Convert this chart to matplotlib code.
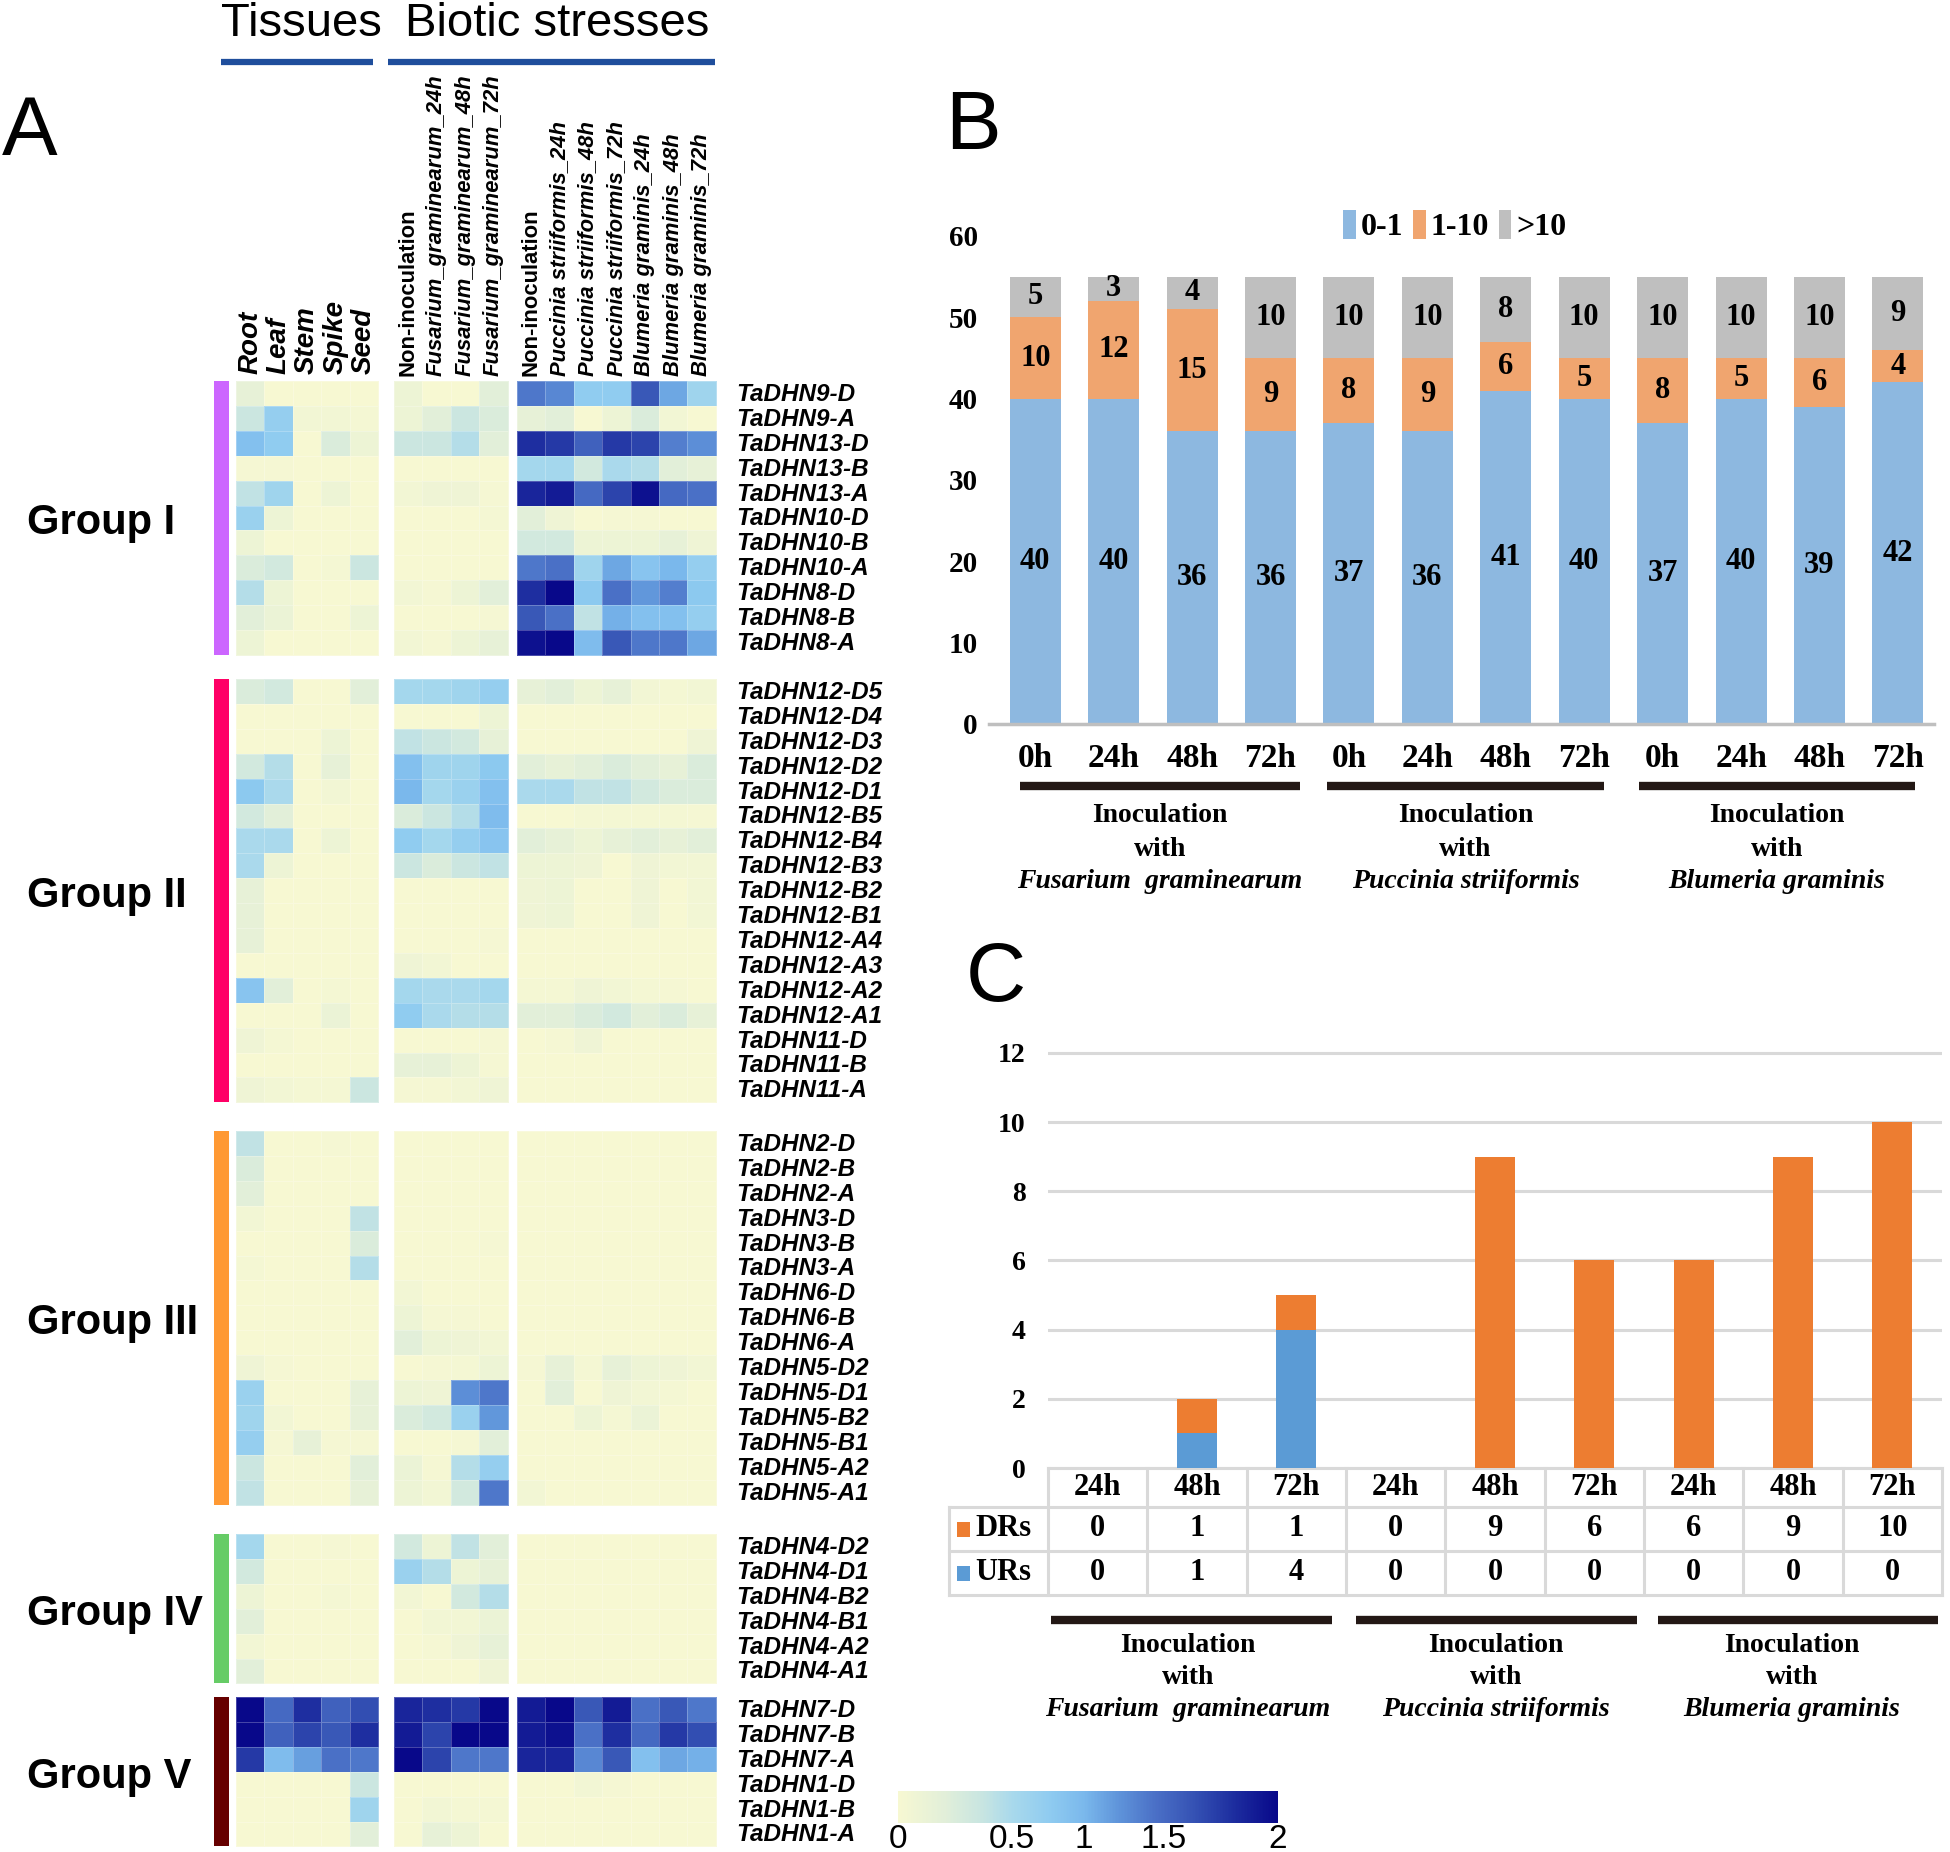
import numpy as np
import matplotlib
matplotlib.use('Agg')
import matplotlib.pyplot as plt
from matplotlib.colors import LinearSegmentedColormap, FuncNorm
from matplotlib.cm import ScalarMappable
from matplotlib.patches import Rectangle

plt.rcParams['font.family'] = ['Liberation Sans', 'DejaVu Sans']
SERIF = ['Liberation Serif', 'DejaVu Serif']

# ---------------- data: panel A (log2 expression, 0-2) ----------------
# columns: Root, Leaf, Stem, Spike, Seed | NI, F24, F48, F72 | NI, P24, P48, P72, B24, B48, B72
tissue_labels = ['Root', 'Leaf', 'Stem', 'Spike', 'Seed']
fusarium_labels = ['Non-inoculation', 'Fusarium_graminearum_24h',
                   'Fusarium_graminearum_48h', 'Fusarium_graminearum_72h']
rust_labels = ['Non-inoculation', 'Puccinia striiformis_24h', 'Puccinia striiformis_48h',
               'Puccinia striiformis_72h', 'Blumeria graminis_24h',
               'Blumeria graminis_48h', 'Blumeria graminis_72h']

group1_genes = ['TaDHN9-D', 'TaDHN9-A', 'TaDHN13-D', 'TaDHN13-B', 'TaDHN13-A', 'TaDHN10-D',
                'TaDHN10-B', 'TaDHN10-A', 'TaDHN8-D', 'TaDHN8-B', 'TaDHN8-A']
group1_vals = [
    [0.15, 0, 0, 0, 0, 0.1, 0, 0, 0.2, 1.4, 1.3, 0.75, 0.75, 1.6, 1.1, 0.6],
    [0.35, 0.7, 0.05, 0.05, 0.03, 0.1, 0.2, 0.35, 0.25, 0.15, 0.2, 0, 0.1, 0.25, 0.05, 0],
    [0.9, 0.75, 0, 0.25, 0.1, 0.35, 0.35, 0.45, 0.2, 1.8, 1.75, 1.55, 1.75, 1.7, 1.35, 1.25],
    [0.02, 0.02, 0, 0, 0, 0, 0, 0, 0, 0.55, 0.55, 0.3, 0.5, 0.45, 0.2, 0.15],
    [0.4, 0.6, 0, 0.1, 0, 0.05, 0.08, 0.08, 0.02, 1.85, 1.9, 1.5, 1.7, 1.95, 1.5, 1.45],
    [0.65, 0.1, 0, 0, 0, 0, 0, 0, 0.03, 0.2, 0.08, 0, 0.02, 0.02, 0, 0],
    [0.1, 0, 0, 0, 0, 0, 0, 0, 0, 0.3, 0.3, 0.1, 0.1, 0.1, 0.15, 0.08],
    [0.25, 0.3, 0, 0.03, 0.35, 0, 0, 0, 0, 1.4, 1.45, 0.6, 1.1, 0.85, 1.0, 0.7],
    [0.45, 0.1, 0, 0, 0, 0.05, 0.02, 0.1, 0.2, 1.8, 2.0, 0.8, 1.45, 1.2, 1.35, 0.8],
    [0.2, 0.12, 0, 0, 0.1, 0, 0, 0, 0.02, 1.6, 1.45, 0.4, 1.05, 0.9, 0.9, 0.7],
    [0.1, 0, 0, 0, 0, 0.05, 0.02, 0.1, 0.15, 1.95, 2.0, 0.95, 1.6, 1.4, 1.4, 1.1],
]

group2_genes = ['TaDHN12-D5', 'TaDHN12-D4', 'TaDHN12-D3', 'TaDHN12-D2', 'TaDHN12-D1',
                'TaDHN12-B5', 'TaDHN12-B4', 'TaDHN12-B3', 'TaDHN12-B2', 'TaDHN12-B1',
                'TaDHN12-A4', 'TaDHN12-A3', 'TaDHN12-A2', 'TaDHN12-A1',
                'TaDHN11-D', 'TaDHN11-B', 'TaDHN11-A']
group2_vals = [
    [0.25, 0.3, 0, 0, 0.2, 0.55, 0.55, 0.6, 0.7, 0.15, 0.2, 0.1, 0.15, 0.05, 0.03, 0.05],
    [0, 0, 0, 0, 0, 0, 0, 0, 0.1, 0, 0, 0, 0, 0, 0, 0],
    [0, 0, 0, 0.1, 0, 0.4, 0.35, 0.3, 0.15, 0, 0, 0, 0, 0, 0, 0.08],
    [0.3, 0.45, 0, 0.15, 0, 0.9, 0.6, 0.6, 0.8, 0.2, 0.15, 0.2, 0.25, 0.2, 0.15, 0.25],
    [0.8, 0.5, 0, 0.05, 0, 1.0, 0.55, 0.65, 0.9, 0.5, 0.5, 0.4, 0.4, 0.3, 0.25, 0.25],
    [0.3, 0.2, 0, 0, 0, 0.25, 0.35, 0.45, 0.95, 0, 0, 0.03, 0.03, 0.03, 0.03, 0.02],
    [0.5, 0.5, 0, 0.1, 0, 0.75, 0.55, 0.7, 0.85, 0.2, 0.15, 0.1, 0.15, 0.2, 0.15, 0.2],
    [0.5, 0.1, 0, 0, 0, 0.35, 0.25, 0.35, 0.4, 0.1, 0.1, 0.08, 0, 0.08, 0.05, 0.05],
    [0.15, 0, 0, 0, 0, 0, 0, 0, 0, 0.08, 0.1, 0, 0, 0.08, 0, 0.05],
    [0.15, 0, 0, 0, 0, 0, 0, 0, 0, 0.08, 0.1, 0, 0, 0.08, 0, 0.05],
    [0.15, 0, 0, 0, 0, 0, 0, 0, 0.02, 0, 0, 0, 0, 0, 0, 0],
    [0, 0, 0, 0, 0, 0.08, 0.05, 0, 0, 0, 0, 0, 0, 0, 0, 0],
    [0.85, 0.2, 0, 0.03, 0, 0.55, 0.5, 0.5, 0.55, 0.03, 0.03, 0.08, 0.05, 0.03, 0.02, 0],
    [0, 0, 0, 0.12, 0, 0.75, 0.5, 0.45, 0.45, 0.2, 0.2, 0.25, 0.3, 0.2, 0.25, 0.15],
    [0.08, 0.03, 0, 0, 0, 0, 0, 0, 0.02, 0, 0.02, 0.08, 0, 0, 0, 0],
    [0, 0, 0, 0, 0, 0.15, 0.15, 0.1, 0.02, 0, 0, 0, 0, 0, 0, 0],
    [0.08, 0.05, 0.03, 0.03, 0.35, 0.02, 0.02, 0.05, 0.08, 0, 0, 0, 0, 0, 0, 0],
]

group3_genes = ['TaDHN2-D', 'TaDHN2-B', 'TaDHN2-A', 'TaDHN3-D', 'TaDHN3-B', 'TaDHN3-A',
                'TaDHN6-D', 'TaDHN6-B', 'TaDHN6-A', 'TaDHN5-D2', 'TaDHN5-D1', 'TaDHN5-B2',
                'TaDHN5-B1', 'TaDHN5-A2', 'TaDHN5-A1']
group3_vals = [
    [0.4, 0, 0, 0.02, 0, 0, 0, 0, 0, 0, 0, 0, 0, 0, 0, 0],
    [0.25, 0, 0, 0, 0, 0, 0, 0, 0, 0, 0, 0, 0, 0, 0, 0],
    [0.2, 0, 0, 0, 0, 0, 0, 0, 0, 0, 0, 0, 0, 0, 0, 0],
    [0.05, 0, 0, 0, 0.4, 0, 0, 0, 0, 0, 0, 0, 0, 0, 0, 0],
    [0, 0, 0, 0, 0.25, 0, 0, 0, 0.02, 0, 0, 0, 0, 0, 0, 0],
    [0.03, 0, 0, 0, 0.45, 0, 0, 0, 0, 0, 0, 0, 0, 0, 0, 0],
    [0, 0, 0, 0, 0, 0.05, 0, 0, 0, 0, 0, 0, 0, 0, 0, 0],
    [0, 0, 0, 0, 0, 0.1, 0.02, 0.02, 0, 0, 0, 0, 0, 0, 0, 0],
    [0, 0, 0, 0, 0, 0.2, 0.1, 0.08, 0.05, 0, 0, 0, 0, 0, 0, 0],
    [0.08, 0.02, 0, 0, 0, 0, 0.02, 0.03, 0.1, 0.02, 0.15, 0.03, 0.15, 0.1, 0.08, 0.05],
    [0.65, 0, 0, 0, 0.15, 0.1, 0.08, 1.25, 1.4, 0, 0.2, 0, 0.08, 0.05, 0.03, 0],
    [0.6, 0.05, 0, 0, 0.15, 0.25, 0.3, 0.65, 1.2, 0, 0, 0.1, 0.03, 0.12, 0, 0],
    [0.7, 0.02, 0.15, 0.02, 0.02, 0, 0, 0.02, 0.2, 0, 0, 0, 0, 0, 0, 0],
    [0.35, 0, 0, 0, 0.2, 0.12, 0.02, 0.45, 0.7, 0, 0, 0, 0, 0, 0, 0],
    [0.4, 0, 0, 0, 0.15, 0.1, 0.05, 0.3, 1.4, 0.05, 0, 0, 0, 0, 0, 0],
]

group4_genes = ['TaDHN4-D2', 'TaDHN4-D1', 'TaDHN4-B2', 'TaDHN4-B1', 'TaDHN4-A2', 'TaDHN4-A1']
group4_vals = [
    [0.55, 0, 0, 0.02, 0, 0.3, 0.1, 0.4, 0.2, 0, 0, 0, 0, 0, 0, 0],
    [0.3, 0, 0, 0, 0, 0.65, 0.45, 0.1, 0.15, 0, 0, 0, 0, 0, 0, 0],
    [0.1, 0, 0, 0.03, 0, 0.05, 0, 0.3, 0.45, 0, 0, 0, 0, 0, 0, 0],
    [0.2, 0, 0, 0, 0, 0, 0.05, 0.05, 0.12, 0, 0, 0, 0, 0, 0, 0],
    [0.05, 0, 0, 0, 0, 0, 0.02, 0.08, 0.15, 0, 0, 0, 0, 0, 0, 0],
    [0.2, 0, 0, 0, 0, 0, 0, 0, 0.08, 0, 0, 0, 0, 0, 0, 0],
]

group5_genes = ['TaDHN7-D', 'TaDHN7-B', 'TaDHN7-A', 'TaDHN1-D', 'TaDHN1-B', 'TaDHN1-A']
group5_vals = [
    [2.0, 1.5, 1.8, 1.55, 1.65, 1.85, 1.8, 1.75, 2.0, 1.9, 2.0, 1.6, 1.9, 1.45, 1.6, 1.4],
    [2.0, 1.55, 1.7, 1.6, 1.8, 1.9, 1.7, 2.0, 2.0, 1.9, 1.95, 1.45, 1.8, 1.5, 1.75, 1.65],
    [1.75, 0.95, 1.15, 1.45, 1.4, 2.0, 1.7, 1.4, 1.4, 1.85, 1.85, 1.3, 1.6, 0.9, 1.1, 1.05],
    [0, 0, 0, 0, 0.35, 0, 0, 0, 0, 0, 0, 0.05, 0.02, 0, 0, 0],
    [0, 0, 0, 0, 0.6, 0, 0.05, 0.03, 0.03, 0, 0, 0, 0, 0, 0, 0],
    [0, 0, 0, 0, 0.2, 0, 0.15, 0.1, 0, 0, 0, 0, 0, 0, 0, 0],
]

group_names = ['Group I', 'Group II', 'Group III', 'Group IV', 'Group V']
group_colors = ['#cc66ff', '#ff0066', '#ff9933', '#66cc66', '#660000']

# ---------------- data: panel B ----------------
b_times = ['0h', '24h', '48h', '72h'] * 3
b_low = [40, 40, 36, 36, 37, 36, 41, 40, 37, 40, 39, 42]
b_mid = [10, 12, 15, 9, 8, 9, 6, 5, 8, 5, 6, 4]
b_high = [5, 3, 4, 10, 10, 10, 8, 10, 10, 10, 10, 9]

# ---------------- data: panel C ----------------
c_times = ['24h', '48h', '72h'] * 3
c_drs = [0, 1, 1, 0, 9, 6, 6, 9, 10]
c_urs = [0, 1, 4, 0, 0, 0, 0, 0, 0]

pathogens = ['Fusarium  graminearum', 'Puccinia striiformis', 'Blumeria graminis']

# ---------------- colours ----------------
cmap = LinearSegmentedColormap.from_list('dhn', [
    (0.0, '#f7f8d2'), (0.12, '#e2efd9'), (0.22, '#c8e5e1'), (0.30, '#a9d9ec'),
    (0.40, '#8fcbf0'), (0.49, '#7ab8ec'), (0.58, '#5f94da'), (0.68, '#4a6fc6'),
    (0.78, '#3552b4'), (0.88, '#1e2fa0'), (1.0, '#08088a')])
cb_vals = [0, 0.5, 1, 1.5, 2]
cb_pos = [0, 0.3, 0.49, 0.7, 1.0]
norm = FuncNorm((lambda v: np.interp(v, cb_vals, cb_pos),
                 lambda p: np.interp(p, cb_pos, cb_vals)), vmin=0, vmax=2)

W, H = 1950, 1852


def px_rect(x0, y0, x1, y1):
    return [x0 / W, 1 - y1 / H, (x1 - x0) / W, (y1 - y0) / H]


fig = plt.figure(figsize=(W / 100, H / 100), dpi=100)
canvas = fig.add_axes([0, 0, 1, 1])
canvas.set_xlim(0, W)
canvas.set_ylim(H, 0)
canvas.axis('off')

# ---------------- panel A ----------------
canvas.text(2, 155, 'A', fontsize=60, va='baseline')
canvas.text(301, 24, 'Tissues', fontsize=34, ha='center', va='center')
canvas.text(557, 24, 'Biotic stresses', fontsize=34, ha='center', va='center')
canvas.plot([221, 373], [62, 62], color='#1f4e9c', lw=4.5, solid_capstyle='butt')
canvas.plot([388, 715], [62, 62], color='#1f4e9c', lw=4.5, solid_capstyle='butt')

ROW_H = 24.9
COL_W = 28.4
block_x0 = [236, 394, 517]
block_cols = [(0, 5), (5, 9), (9, 16)]
group_tops = [381, 679, 1131, 1534, 1697]

col_labels = tissue_labels + fusarium_labels + rust_labels
for k, lab in enumerate(col_labels):
    b = 0 if k < 5 else (1 if k < 9 else 2)
    xc = block_x0[b] + (k - block_cols[b][0] + 0.5) * COL_W
    if b == 0:
        canvas.text(xc, 374, lab, rotation=90, ha='center', va='bottom',
                    fontsize=20, fontweight='bold', fontstyle='italic')
    else:
        style = 'normal' if lab.startswith('Non') else 'italic'
        canvas.text(xc, 376, lab, rotation=90, ha='center', va='bottom',
                    fontsize=15.8, fontweight='bold', fontstyle=style)

groups = [(group1_genes, group1_vals), (group2_genes, group2_vals),
          (group3_genes, group3_vals), (group4_genes, group4_vals),
          (group5_genes, group5_vals)]

for (genes, vals), top, name, gcol in zip(groups, group_tops, group_names, group_colors):
    vals = np.array(vals, dtype=float)
    n = len(genes)
    ye = top + np.arange(n + 1) * ROW_H
    for x0, (c0, c1) in zip(block_x0, block_cols):
        xe = x0 + np.arange(c1 - c0 + 1) * COL_W
        canvas.pcolormesh(xe, ye, vals[:, c0:c1], cmap=cmap, norm=norm,
                          edgecolors=(1, 1, 1, 0.25), linewidth=0.4)
    canvas.add_patch(Rectangle((214, top), 15, n * ROW_H, color=gcol, lw=0))
    for i, g in enumerate(genes):
        canvas.text(736, top + (i + 0.5) * ROW_H + 1, g, fontsize=17.5, fontweight='bold',
                    fontstyle='italic', va='center', ha='left')
    canvas.text(27, top + n * ROW_H / 2 + 5, name, fontsize=30, fontweight='bold',
                va='center', ha='left')

# colour bar
cax = fig.add_axes(px_rect(898, 1791, 1278, 1823))
cb = fig.colorbar(ScalarMappable(norm=norm, cmap=cmap), cax=cax,
                  orientation='horizontal', ticks=cb_vals)
cb.outline.set_visible(False)
cb.set_ticklabels(['0', '0.5', '1', '1.5', '2'])
cax.tick_params(length=0, labelsize=24, pad=1)

# ---------------- panel B ----------------
canvas.text(945, 149, 'B', fontsize=60, va='baseline')
axB = fig.add_axes(px_rect(989, 236, 1934, 724))
axB.set_facecolor('none')
xb = np.arange(len(b_times))
low = np.array(b_low)
mid = np.array(b_mid)
high = np.array(b_high)
bw = 0.65
r1 = axB.bar(xb, low, bw, color='#8db8e0', label='0-1')
r2 = axB.bar(xb, mid, bw, bottom=low, color='#f0a56f', label='1-10')
r3 = axB.bar(xb, high, bw, bottom=low + mid, color='#bfbfbf', label='>10')
for r in (r1, r2, r3):
    axB.bar_label(r, label_type='center', fontsize=22, fontweight='bold', family=SERIF)
axB.set_xlim(-0.59, 11.46)
axB.set_ylim(0, 60)
axB.set_yticks(range(0, 61, 10))
axB.set_xticks(xb)
axB.set_xticklabels(b_times)
for s in ['top', 'right', 'left']:
    axB.spines[s].set_visible(False)
axB.spines['bottom'].set_color('#bfbfbf')
axB.spines['bottom'].set_linewidth(2.5)
axB.tick_params(axis='y', length=0, pad=8)
axB.tick_params(axis='x', length=0, pad=14)
for t in axB.get_yticklabels():
    t.set_fontfamily(SERIF)
    t.set_fontweight('bold')
    t.set_fontsize(21)
for t in axB.get_xticklabels():
    t.set_fontfamily(SERIF)
    t.set_fontweight('bold')
    t.set_fontsize(24)
axB.legend(loc='center', bbox_to_anchor=(0.493, 1.02), ncol=3, frameon=False,
           handlelength=0.4, handleheight=1.0, handletextpad=0.15, columnspacing=0.3,
           prop={'family': SERIF, 'weight': 'bold', 'size': 23}, borderaxespad=0)

b_lines = [(1020, 1300), (1327, 1604), (1639, 1915)]
for (x0, x1), sp in zip(b_lines, pathogens):
    canvas.plot([x0, x1], [786, 786], color='#231815', lw=6, solid_capstyle='butt')
    xc = (x0 + x1) / 2
    canvas.text(xc, 816, 'Inoculation', family=SERIF, fontweight='bold', fontsize=20,
                ha='center', va='center')
    canvas.text(xc, 849, 'with', family=SERIF, fontweight='bold', fontsize=20,
                ha='center', va='center')
    canvas.text(xc, 882, sp, family=SERIF, fontweight='bold', fontstyle='italic',
                fontsize=20, ha='center', va='center')

# ---------------- panel C ----------------
canvas.text(966, 1001, 'C', fontsize=60, va='baseline')
C_L, C_R, C_T, C_B = 1048, 1942, 1046, 1468
axC = fig.add_axes(px_rect(C_L, C_T, C_R, C_B))
axC.set_facecolor('none')
xc_ = np.arange(len(c_times))
axC.bar(xc_, c_urs, 0.4, color='#5b9bd5', zorder=3)
axC.bar(xc_, c_drs, 0.4, bottom=c_urs, color='#ed7d31', zorder=3)
axC.set_xlim(-0.5, 8.5)
axC.set_ylim(0, 12.2)
axC.set_yticks(range(0, 13, 2))
axC.set_xticks([])
axC.grid(axis='y', color='#d9d9d9', lw=2.2)
axC.set_axisbelow(True)
for s in axC.spines.values():
    s.set_visible(False)
axC.tick_params(axis='y', length=0, pad=16)
for t in axC.get_yticklabels():
    t.set_fontfamily(SERIF)
    t.set_fontweight('bold')
    t.set_fontsize(20)

# data table under panel C
col_w = (C_R - C_L) / len(c_times)
row_y = [1468, 1507, 1551, 1595]
tcol = '#d9d9d9'
canvas.plot([C_L, C_R], [row_y[0], row_y[0]], color=tcol, lw=2.2)
for yy in row_y[1:]:
    canvas.plot([949, C_R], [yy, yy], color=tcol, lw=2.2)
canvas.plot([949, 949], [row_y[1], row_y[3]], color=tcol, lw=2.2)
for i in range(len(c_times) + 1):
    xx = C_L + i * col_w
    canvas.plot([xx, xx], [row_y[0], row_y[3]], color=tcol, lw=2.2)
for i, lab in enumerate(c_times):
    cx = C_L + (i + 0.5) * col_w
    canvas.text(cx, (row_y[0] + row_y[1]) / 2, lab, family=SERIF, fontweight='bold',
                fontsize=22, ha='center', va='center')
    canvas.text(cx, (row_y[1] + row_y[2]) / 2, str(c_drs[i]), family=SERIF,
                fontweight='bold', fontsize=22, ha='center', va='center')
    canvas.text(cx, (row_y[2] + row_y[3]) / 2, str(c_urs[i]), family=SERIF,
                fontweight='bold', fontsize=22, ha='center', va='center')
for (lab, colr), y0, y1 in zip([('DRs', '#ed7d31'), ('URs', '#5b9bd5')], row_y[1:3], row_y[2:4]):
    ym = (y0 + y1) / 2
    canvas.add_patch(Rectangle((957, ym - 7), 13, 15, color=colr, lw=0))
    canvas.text(975, ym, lab, family=SERIF, fontweight='bold', fontsize=22,
                ha='left', va='center')

c_lines = [(1051, 1332), (1356, 1637), (1658, 1938)]
c_text_x = [1188, 1496, 1792]
for (x0, x1), tx, sp in zip(c_lines, c_text_x, pathogens):
    canvas.plot([x0, x1], [1620, 1620], color='#231815', lw=6, solid_capstyle='butt')
    canvas.text(tx, 1645, 'Inoculation', family=SERIF, fontweight='bold', fontsize=20,
                ha='center', va='center')
    canvas.text(tx, 1678, 'with', family=SERIF, fontweight='bold', fontsize=20,
                ha='center', va='center')
    canvas.text(tx, 1709, sp, family=SERIF, fontweight='bold', fontstyle='italic',
                fontsize=20, ha='center', va='center')

fig.savefig('out.png', dpi=100)
